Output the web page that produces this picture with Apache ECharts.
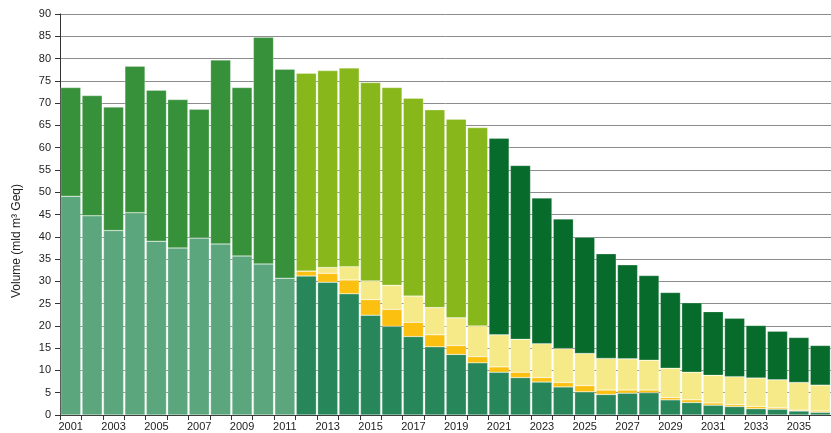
<!DOCTYPE html>
<html lang="en">
<head>
	<meta charset="UTF-8">
	<title>Volume</title>
	<script src="https://cdn.jsdelivr.net/npm/echarts@6/dist/echarts.min.js"></script>
	<style>
		html,body{width:100%;height:100%;margin:0;background:#fff;}
		#chart{width:831px;height:433px;}
	</style>
</head>
<body>
	<div id="chart"></div>
<script>
	// years 2001 - 2036
	var years = [];
	for (var y = 2001; y <= 2036; y++) years.push(String(y));

	// 2001-2011 realised
	var histBottom = [49.1, 44.7, 41.4, 45.4, 39.0, 37.5, 39.7, 38.4, 35.7, 33.9, 30.7];
	var histTop    = [24.4, 27.0, 27.7, 32.9, 33.9, 33.3, 28.9, 41.3, 37.8, 50.9, 46.9];

	// 2012-2036 forecast layers
	var baseGreen = [31.2, 29.8, 27.2, 22.4, 19.9, 17.6, 15.3, 13.6, 11.7, 9.6, 8.4, 7.4, 6.3, 5.2, 4.6, 4.9, 5.0, 3.4, 2.8, 2.2, 1.9, 1.4, 1.3, 0.9, 0.6];
	var orange    = [1.1, 2.0, 3.1, 3.5, 3.8, 3.2, 2.7, 2.0, 1.4, 1.2, 1.2, 1.0, 1.0, 1.4, 1.0, 0.7, 0.6, 0.5, 0.6, 0.5, 0.4, 0.5, 0.3, 0.2, 0.3];
	var lightYellow = [0, 1.3, 3.0, 4.2, 5.4, 5.9, 6.1, 6.2, 6.9, 7.2, 7.4, 7.6, 7.6, 7.2, 7.1, 7.0, 6.7, 6.6, 6.2, 6.2, 6.3, 6.4, 6.3, 6.2, 5.8];
	// 2012-2020
	var yellowGreen = [44.4, 44.2, 44.6, 44.5, 44.4, 44.4, 44.4, 44.6, 44.5];
	// 2021-2036
	var darkGreen = [44.1, 39.0, 32.7, 29.1, 26.1, 23.5, 21.1, 19.0, 17.0, 15.6, 14.3, 13.1, 11.8, 10.9, 10.1, 8.9];

	var yTicks = {min: 0, max: 90, interval: 5};

	function place(arr, offset) {
		var out = [];
		for (var i = 0; i < years.length; i++) {
			var v = arr[i - offset];
			out.push(v === undefined ? null : v);
		}
		return out;
	}

	function bar(name, data, color) {
		return {
			name: name,
			type: 'bar',
			stack: 'vol',
			barCategoryGap: '6%',
			data: data,
			itemStyle: {color: color, borderColor: 'rgba(255,255,255,0.5)', borderWidth: 0.5},
			emphasis: {disabled: true}
		};
	}

	var font = 'Liberation Sans, Arial, sans-serif';
	var myChart = echarts.init(document.getElementById('chart'));
	myChart.setOption({
		animation: false,
		grid: {left: 60, top: 14, width: 778, height: 401},
		xAxis: {
			type: 'category',
			data: years,
			axisLine: {lineStyle: {color: '#333', width: 1}},
			axisTick: {show: true, interval: 0, length: 5, lineStyle: {color: '#333'}},
			axisLabel: {interval: 1, color: '#222', fontSize: 11, fontFamily: font, margin: 6}
		},
		yAxis: {
			type: 'value',
			min: yTicks.min,
			max: yTicks.max,
			interval: yTicks.interval,
			axisLine: {show: true, lineStyle: {color: '#333', width: 1}},
			axisTick: {show: true, length: 5, lineStyle: {color: '#333'}},
			axisLabel: {color: '#222', fontSize: 11, fontFamily: font, margin: 9},
			splitLine: {show: true, lineStyle: {color: '#8c8c8c', width: 1}}
		},
		graphic: [{
			type: 'text',
			x: 17,
			y: 241,
			rotation: Math.PI / 2,
			style: {
				text: 'Volume (mld m³ Geq)',
				fill: '#222',
				font: '12px ' + font,
				align: 'center',
				verticalAlign: 'middle'
			}
		}],
		series: [
			bar('hist bottom', place(histBottom, 0), '#5ba67c'),
			bar('hist top', place(histTop, 0), '#37913a'),
			bar('base', place(baseGreen, 11), '#27875a'),
			bar('orange', place(orange, 11), '#fcc010'),
			bar('light', place(lightYellow, 11), '#f6ea88'),
			bar('yellowgreen', place(yellowGreen, 11), '#88b71b'),
			bar('darkgreen', place(darkGreen, 20), '#076b2b')
		]
	});
</script>
</body>
</html>
